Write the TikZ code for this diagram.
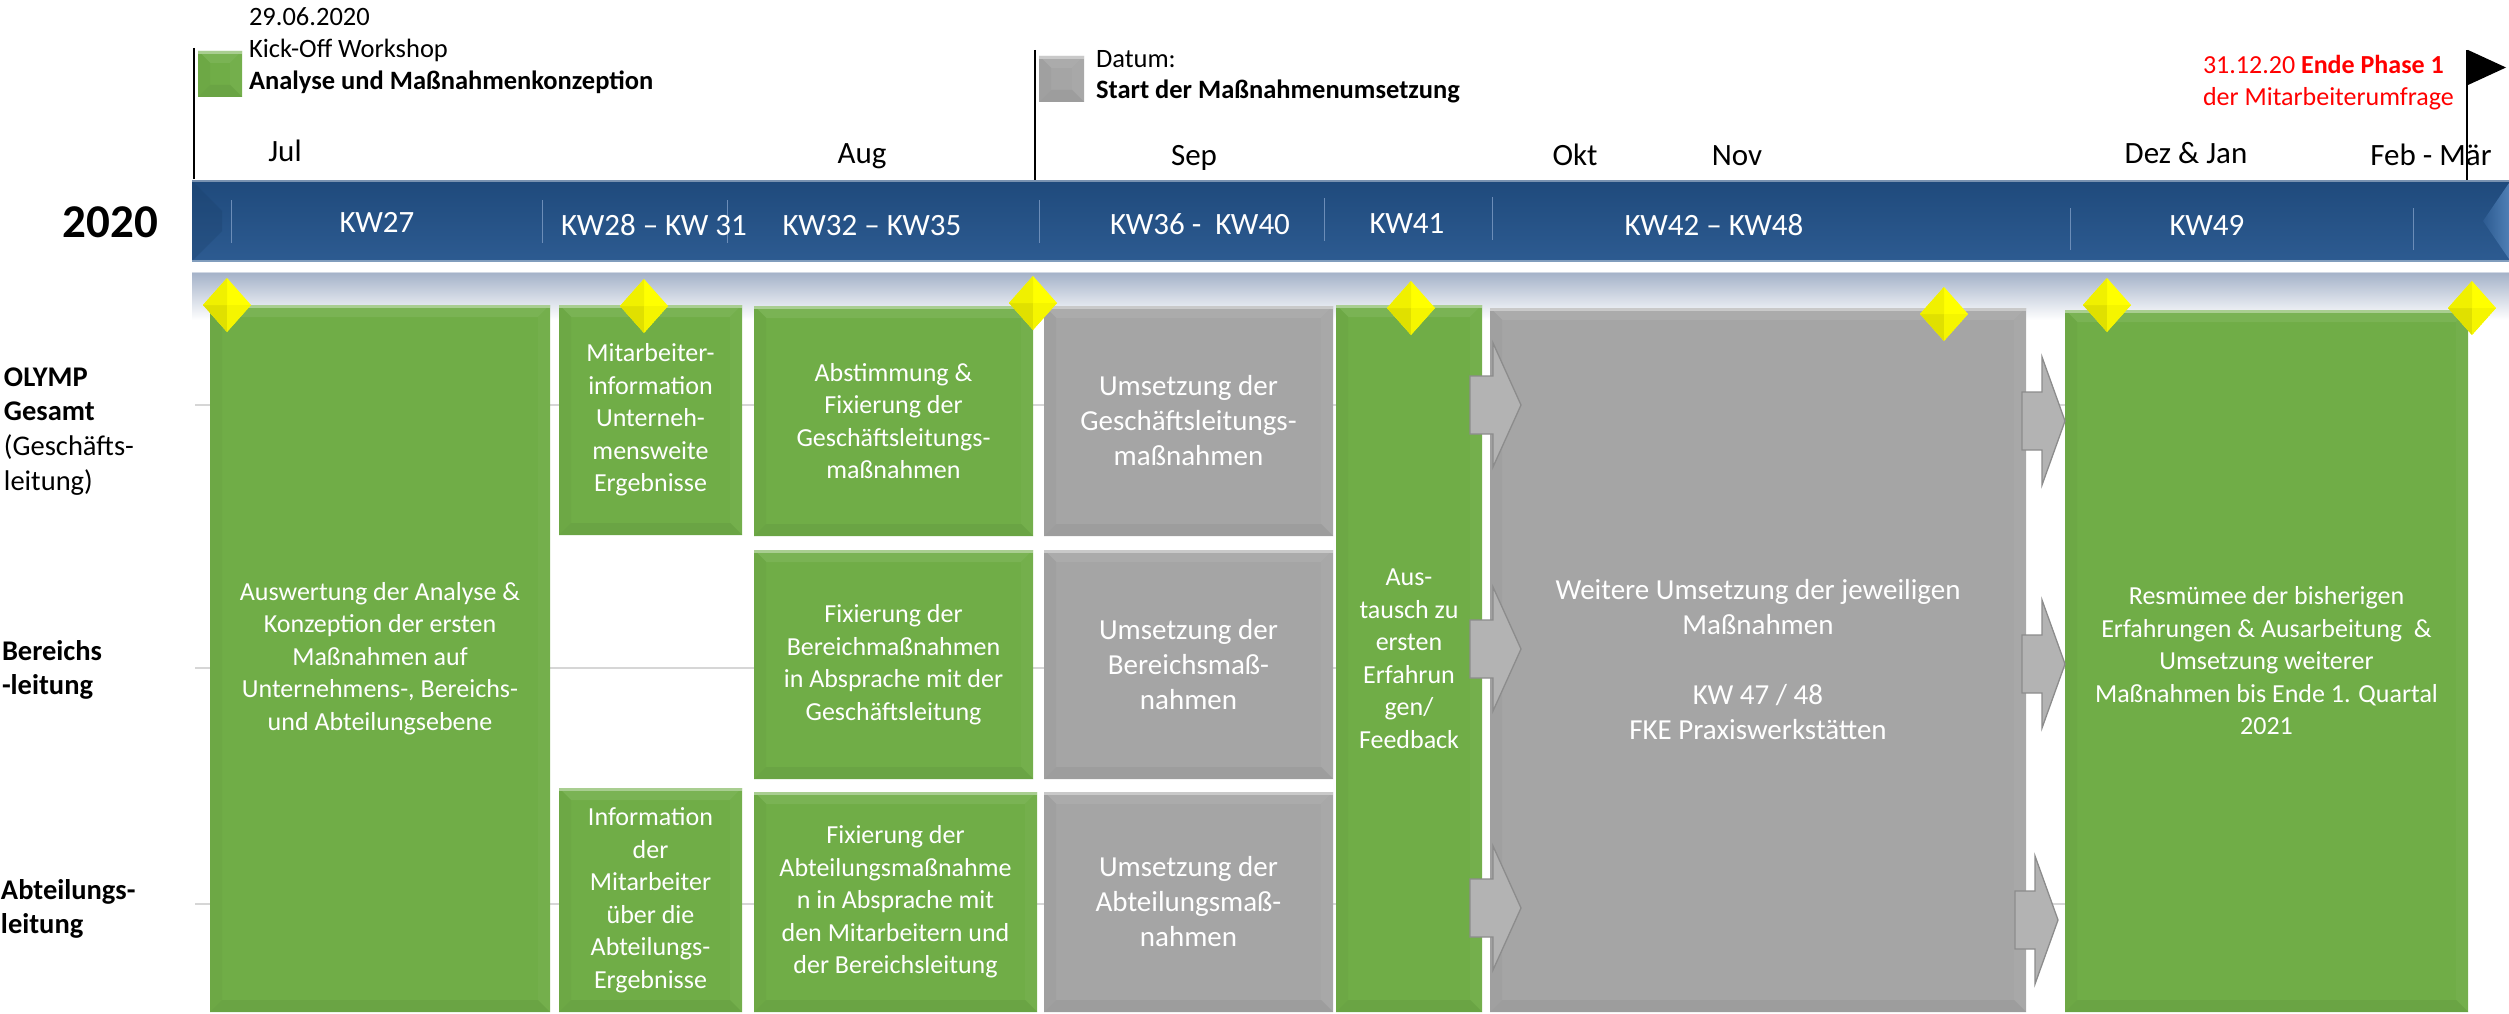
\documentclass[tikz,border=0pt]{standalone}
\usepackage{fontspec}
\setmainfont{Carlito}
\usetikzlibrary{shapes.geometric}
\definecolor{grn}{HTML}{70AD47}
\definecolor{gry}{HTML}{A5A5A5}
\definecolor{bandtop}{HTML}{1F4A7C}
\definecolor{bandbot}{HTML}{2D5B91}
\definecolor{bandlight}{HTML}{4F7FB5}
\definecolor{gradtop}{HTML}{A3B1C8}
\definecolor{gridc}{HTML}{D6D6D6}
\definecolor{sepc}{HTML}{6C8DB8}
\definecolor{arrfill}{HTML}{B3B3B3}
\definecolor{arrline}{HTML}{8C8C8C}
\definecolor{msyel}{HTML}{FFFF00}
\newcommand\fsBox{\fontsize{26}{32.5}\selectfont}
\newcommand\fsGray{\fontsize{29}{35}\selectfont}
\newcommand\fsHead{\fontsize{26.5}{32}\selectfont}
\newcommand\fsRed{\fontsize{26}{32}\selectfont}
\newcommand\fsMonth{\fontsize{31}{37}\selectfont}
\newcommand\fsRow{\fontsize{28.5}{35}\selectfont}
\newcommand\fsYear{\fontsize{47}{56}\selectfont}
\newcommand\bevelfx[1]{%
  \def\pb{path picture bounding box}%
  \fill[#1!93!white] (\pb.north west) -- (\pb.north east) -- ([xshift=-12pt,yshift=-12pt]\pb.north east) -- ([xshift=12pt,yshift=-12pt]\pb.north west) -- cycle;
  \fill[#1!97!black] (\pb.north west) -- ([xshift=12pt,yshift=-12pt]\pb.north west) -- ([xshift=12pt,yshift=12pt]\pb.south west) -- (\pb.south west) -- cycle;
  \fill[#1!97!white] (\pb.north east) -- (\pb.south east) -- ([xshift=-12pt,yshift=12pt]\pb.south east) -- ([xshift=-12pt,yshift=-12pt]\pb.north east) -- cycle;
  \fill[#1!95!black] (\pb.south west) -- (\pb.south east) -- ([xshift=-12pt,yshift=12pt]\pb.south east) -- ([xshift=12pt,yshift=12pt]\pb.south west) -- cycle;
  \fill[#1!60!white] (\pb.north west) rectangle ([yshift=-3pt]\pb.north east);
}
\begin{document}
\begin{tikzpicture}[x=1pt,y=-1pt,
  every node/.style={inner sep=0pt, outer sep=0pt},
  boxbase/.style={align=center, text=white},
  grnbox/.style={boxbase, fill=grn, font=\fsBox, path picture={\bevelfx{grn}}},
  grybox/.style={boxbase, fill=gry, font=\fsGray, path picture={\bevelfx{gry}}},
  milestone/.style={diamond, fill=msyel, minimum width=48pt, minimum height=54pt,
    path picture={\def\pb{path picture bounding box}%
      \fill[msyel!88!black] (\pb.center) -- (\pb.west) -- (\pb.south) -- cycle;
      \fill[msyel!94!black] (\pb.center) -- (\pb.west) -- (\pb.north) -- cycle;
      \fill[msyel!96!black] (\pb.center) -- (\pb.east) -- (\pb.south) -- cycle;}},
  arrowsty/.style={fill=arrfill, draw=arrline, line width=1.3pt, line join=miter},
  arrL/.pic={\path[arrowsty] (0,-29) -- (23,-29) -- (23,-62) -- (51,0) -- (23,62) -- (23,29) -- (0,29) -- cycle;},
  arrR/.pic={\path[arrowsty] (0,-29) -- (20,-29) -- (20,-64) -- (43,0) -- (20,64) -- (20,29) -- (0,29) -- cycle;},
  hd/.style={font=\fsHead, anchor=base west},
  redtxt/.style={font=\fsRed, text=red, anchor=base west},
  month/.style={font=\fsMonth, anchor=base},
  kw/.style={font=\fsMonth, text=white, anchor=base},
  rowb/.style={font=\fsRow\bfseries, anchor=base west},
  rowr/.style={font=\fsRow, anchor=base west},
  marker/.style={line width=1.8pt, black},
  sep/.style={sepc, line width=1pt},
  grid/.style={gridc, line width=1.6pt}
]
\useasboundingbox (0,0) rectangle (2509,1014);

% row grid lines
\foreach \gy in {405,668,904} \draw[grid] (195,\gy) -- (2065,\gy);

% blue band
\node[shade, top color=bandtop, bottom color=bandbot, minimum width=2317pt, minimum height=80pt] (band) at (1350.5,221) {};
\fill[bandtop!85!black, opacity=0.3] (192,181) -- (222,211) -- (222,231) -- (192,261) -- cycle;
\shade[left color=bandbot, right color=bandlight] (2509,183) -- (2483,221) -- (2509,259) -- cycle;
\draw[line width=1.5pt, color=bandtop!60!white] (band.north west) -- (band.north east);
\draw[line width=1.5pt, color=bandbot!60!white] (band.south west) -- (band.south east);
\foreach \sx/\sa/\sb in {231/200/243, 542/200/243, 727/200/243, 1039/200/243, 1324/198/241, 1492/197/240, 2070/208/250, 2413/208/250}
  \draw[sep] (\sx,\sa) -- (\sx,\sb);
\node[kw] (kw27) at (377,232) {KW27};
\node[kw] (kw28) at (654,235) {KW28 – KW 31};
\node[kw] (kw32) at (872,235) {KW32 – KW35};
\node[kw] (kw36) at (1200,234) {KW36 - \ KW40};
\node[kw] (kw41) at (1407,233) {KW41};
\node[kw] (kw42) at (1714,235) {KW42 – KW48};
\node[kw] (kw49) at (2207,235) {KW49};

% light gradient band
\shade[top color=gradtop, bottom color=white] (192,272) rectangle (2509,320);
\draw[line width=1pt, color=gradtop!50!white] (192,272) -- (2509,272);

% boxes
\node[grnbox, minimum width=340pt, minimum height=707pt] (A) at (380,658.5)
  {Auswertung der Analyse \&\\Konzeption der ersten\\Maßnahmen auf\\Unternehmens-, Bereichs-\\und Abteilungsebene};
\node[grnbox, minimum width=183pt, minimum height=230pt] (B) at (650.5,420)
  {Mitarbeiter-\\information\\Unterneh-\\mensweite\\Ergebnisse};
\node[grnbox, minimum width=183pt, minimum height=224pt] (C) at (650.5,900)
  {Information\\der\\Mitarbeiter\\über die\\Abteilungs-\\Ergebnisse};
\node[grnbox, minimum width=279pt, minimum height=230pt] (D) at (893.5,421)
  {Abstimmung \&\\Fixierung der\\Geschäftsleitungs-\\maßnahmen};
\node[grnbox, minimum width=279pt, minimum height=229pt] (E) at (893.5,664.5)
  {Fixierung der\\Bereichmaßnahmen\\in Absprache mit der\\Geschäftsleitung};
\node[grnbox, minimum width=283pt, minimum height=220pt] (F) at (895.5,902)
  {Fixierung der\\Abteilungsmaßnahme\\n in Absprache mit\\den Mitarbeitern und\\der Bereichsleitung};
\node[grybox, minimum width=289pt, minimum height=230pt] (G1) at (1188.5,421)
  {Umsetzung der\\Geschäftsleitungs-\\maßnahmen};
\node[grybox, minimum width=289pt, minimum height=229pt] (G2) at (1188.5,664.5)
  {Umsetzung der\\Bereichsmaß-\\nahmen};
\node[grybox, minimum width=289pt, minimum height=220pt] (G3) at (1188.5,902)
  {Umsetzung der\\Abteilungsmaß-\\nahmen};
\node[grnbox, minimum width=146pt, minimum height=707pt] (H) at (1409,658.5)
  {Aus-\\tausch zu\\ersten\\Erfahrun\\gen/\\Feedback};
\node[grybox, minimum width=536pt, minimum height=704pt] (W) at (1758,660)
  {Weitere Umsetzung der jeweiligen\\Maßnahmen\\[35pt]KW 47 / 48\\FKE Praxiswerkstätten};
\node[grnbox, minimum width=403pt, minimum height=702pt] (R) at (2266.5,661)
  {Resmümee der bisherigen\\Erfahrungen \& Ausarbeitung \ \&\\Umsetzung weiterer\\Maßnahmen bis Ende 1. Quartal\\2021};

% block arrows
\pic at (1470,405) {arrL};
\pic at (1470,649) {arrL};
\pic at (1470,908) {arrL};
\pic at (2022,421) {arrR};
\pic at (2022,664) {arrR};
\pic at (2015,920) {arrR};

% milestones
\node[milestone] (m1) at (227,305) {};
\node[milestone] (m2) at (644,306) {};
\node[milestone] (m3) at (1033,303) {};
\node[milestone] (m4) at (1411,308) {};
\node[milestone] (m5) at (1944,314) {};
\node[milestone] (m6) at (2107,305) {};
\node[milestone] (m7) at (2472,308) {};

% header
\node[grnbox, minimum width=44pt, minimum height=46pt] (lg1) at (220,74) {};
\node[grybox, minimum width=45pt, minimum height=46pt] (lg2) at (1061.5,79) {};
\node[hd] (h1) at (249,26) {29.06.2020};
\node[hd] (h2) at (249,58) {Kick-Off Workshop};
\node[hd] (h3) at (249,90) {\bfseries Analyse und Maßnahmenkonzeption};
\node[hd] (h4) at (1096,68) {Datum:};
\node[hd] (h5) at (1096,99) {\bfseries Start der Maßnahmenumsetzung};
\node[redtxt] (h6) at (2203,74) {31.12.20 \textbf{Ende Phase 1}};
\node[redtxt] (h7) at (2203,106) {der Mitarbeiterumfrage};

% months
\node[month] (mJul) at (285,162) {Jul};
\node[month] (mAug) at (862,164) {Aug};
\node[month] (mSep) at (1194,165) {Sep};
\node[month] (mOkt) at (1575,165) {Okt};
\node[month] (mNov) at (1737,165) {Nov};
\node[month] (mDez) at (2186,164) {Dez \& Jan};
\node[month] (mFeb) at (2431,166) {Feb - Mär};

% time markers
\coordinate (t1a) at (194,48);   \coordinate (t1b) at (194,179);
\coordinate (t2a) at (1035,50);  \coordinate (t2b) at (1035,180);
\coordinate (t3a) at (2467,50);  \coordinate (t3b) at (2467,180);
\draw[marker] (t1a) -- (t1b);
\draw[marker] (t2a) -- (t2b);
\draw[marker] (t3a) -- (t3b);
\fill[black] (2468,50) -- (2506,67.5) -- (2468,85) -- cycle;

% year
\node[font=\fsYear\bfseries, anchor=base] (yr) at (110.5,237) {2020};

% row labels
\node[rowb] (r1a) at (4,386) {OLYMP};
\node[rowb] (r1b) at (4,420) {Gesamt};
\node[rowr] (r1c) at (4,455) {(Geschäfts-};
\node[rowr] (r1d) at (4,490) {leitung)};
\node[rowb] (r2a) at (2,660) {Bereichs};
\node[rowb] (r2b) at (2,694) {-leitung};
\node[rowb] (r3a) at (1,899) {Abteilungs-};
\node[rowb] (r3b) at (1,933) {leitung};
\end{tikzpicture}
\end{document}
